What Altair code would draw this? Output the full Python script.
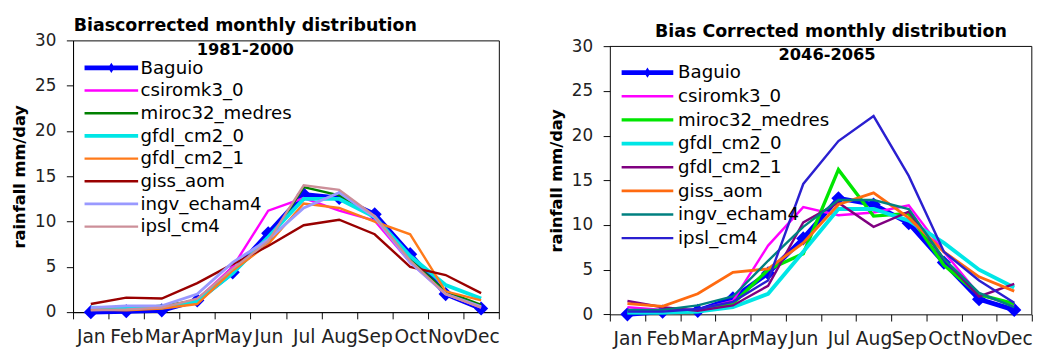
import json
import altair as alt
import pandas as pd

months = ["Jan", "Feb", "Mar", "Apr", "May", "Jun", "Jul", "Aug", "Sep", "Oct", "Nov", "Dec"]
series = ["Baguio", "csiromk3_0", "miroc32_medres", "gfdl_cm2_0", "gfdl_cm2_1",
          "giss_aom", "ingv_echam4", "ipsl_cm4"]

# ---- 1981-2000 (left panel), rainfall mm/day ----
hist_baguio = [0.0, 0.1, 0.2, 1.3, 4.4, 8.7, 13.0, 12.6, 10.8, 6.4, 2.0, 0.4]
hist_csiromk3_0 = [0.35, 0.35, 0.5, 1.4, 5.0, 11.2, 12.6, 11.2, 10.1, 5.5, 2.0, 0.5]
hist_miroc32_medres = [0.3, 0.4, 0.7, 1.3, 4.5, 7.7, 13.8, 12.9, 10.5, 5.8, 2.3, 0.8]
hist_gfdl_cm2_0 = [0.5, 0.4, 0.5, 1.2, 4.3, 8.3, 12.5, 12.5, 10.5, 6.2, 3.0, 1.5]
hist_gfdl_cm2_1 = [0.3, 0.2, 0.4, 0.9, 4.6, 7.5, 12.0, 11.5, 10.0, 8.6, 2.3, 1.3]
hist_giss_aom = [0.9, 1.6, 1.5, 3.2, 5.3, 7.3, 9.6, 10.2, 8.6, 5.0, 4.1, 2.1]
hist_ingv_echam4 = [0.5, 0.7, 0.7, 2.0, 5.5, 8.0, 11.5, 13.2, 10.5, 5.5, 2.0, 0.6]
hist_ipsl_cm4 = [0.2, 0.3, 0.5, 1.5, 4.8, 7.8, 14.0, 13.5, 10.6, 5.7, 2.0, 0.5]

# ---- 2046-2065 (right panel) ----
fut_baguio = [0.0, 0.3, 0.4, 1.8, 4.6, 8.5, 13.0, 12.3, 10.2, 5.8, 1.7, 0.5]
fut_csiromk3_0 = [0.8, 0.5, 0.5, 1.5, 7.7, 12.0, 11.1, 11.4, 12.2, 7.0, 2.2, 1.0]
fut_miroc32_medres = [0.2, 0.2, 0.3, 1.2, 5.0, 6.8, 16.2, 11.0, 11.3, 5.5, 2.2, 1.2]
fut_gfdl_cm2_0 = [0.2, 0.2, 0.3, 0.8, 2.3, 7.0, 11.8, 11.8, 10.5, 8.0, 5.0, 3.0]
fut_gfdl_cm2_1 = [1.5, 0.8, 0.4, 1.0, 3.2, 10.3, 12.5, 9.8, 11.5, 6.2, 2.0, 3.4]
fut_giss_aom = [1.2, 0.9, 2.3, 4.7, 5.1, 8.0, 12.3, 13.6, 10.8, 7.0, 4.2, 2.6]
fut_ingv_echam4 = [0.5, 0.5, 1.0, 2.0, 6.0, 9.8, 12.8, 12.8, 11.8, 6.2, 2.4, 0.8]
fut_ipsl_cm4 = [0.3, 0.3, 0.6, 1.4, 3.8, 14.6, 19.4, 22.2, 15.5, 7.0, 3.8, 1.3]

hist_colors = ["#0000FF", "#FF00FF", "#008000", "#00E6E6", "#FF7A1A", "#990000", "#9999FF", "#CC8F99"]
fut_colors = ["#0000FF", "#FF00FF", "#00E600", "#00E6E6", "#800080", "#FF6A10", "#008080", "#2A1FD0"]
hist_widths = [5, 2.5, 2.5, 4, 2.5, 2.5, 3, 2.5]
fut_widths = [5, 2.5, 3.5, 4, 2.5, 3, 2.5, 2.5]

hist_title = ["Biascorrected monthly distribution", "1981-2000"]
fut_title = ["Bias Corrected monthly distribution", "2046-2065"]
y_title = "rainfall mm/day"
y_ticks = [0, 5, 10, 15, 20, 25, 30]

FONT = "DejaVu Sans"
BASE_W = 2.5


def long_df(columns, widths):
    rows = []
    for name, vals, w in zip(series, columns, widths):
        for i, (m, v) in enumerate(zip(months, vals)):
            rows.append({"series": name, "month": m, "pos": i + 0.5, "value": v, "w": w})
    return pd.DataFrame(rows)


def symbol_path(w, r, diamond):
    # thick legend strokes are built from parallel lines of the base width
    if w <= BASE_W and not diamond:
        return "stroke"
    extra = max(w - BASE_W, 0) / 2.0
    if extra == 0:
        offs = [0.0]
    elif extra > 1:
        offs = [-extra, 0.0, extra]
    else:
        offs = [-extra, extra]
    p = "".join(f"M-1,{o / r:.4f}L1,{o / r:.4f}" for o in offs)
    if diamond:
        p += "M-0.07,0L0,-0.11L0.07,0L0,0.11Z"
    return p


def panel(columns, colors, widths, title_lines, width, height, y_top, title_cx, title_ys,
          legend_x, legend_y, row_pad, sym_size, label_off, framed):
    df = long_df(columns, widths)
    step = width / 12.0
    total_h = height + y_top
    label_expr = f"datum.value < 12 ? {json.dumps(months)}[datum.value] : ''"
    x_scale = alt.Scale(domain=[0, 12], nice=False, zero=False)
    x_axis = alt.Axis(values=list(range(13)), labelExpr=label_expr, labelOffset=step / 2,
                      labelFlush=False, labelOverlap=False, tickSize=7, grid=False, title=None,
                      domainColor="black", tickColor="black", labelColor="#222",
                      labelFont=FONT, labelFontSize=19.5, labelPadding=10)
    y_scale = alt.Scale(domain=[0, 30], nice=False, range=[total_h, y_top])
    y_axis = alt.Axis(values=y_ticks, title=y_title, titleFont=FONT, titleFontWeight="bold",
                      titleFontSize=17, titleColor="black", titlePadding=6,
                      labelFont=FONT, labelFontSize=17.5, labelColor="#222", labelPadding=11,
                      tickSize=7, grid=False, domainColor="black", tickColor="black")
    x = alt.X("pos:Q", scale=x_scale, axis=x_axis)
    y = alt.Y("value:Q", scale=y_scale, axis=y_axis)

    r = (sym_size ** 0.5) / 2.0
    paths = [symbol_path(w, r, i == 0) for i, w in enumerate(widths)]
    shape_expr = f"{json.dumps(paths)}[indexof({json.dumps(series)}, datum.value)]"

    base_b = alt.Chart(df[df["series"] == series[0]])
    b_line = base_b.mark_line(color=colors[0], strokeWidth=widths[0]).encode(x=x, y=y)
    b_pts = base_b.mark_point(shape="diamond", filled=True, size=220, color=colors[0],
                              opacity=1).encode(x=x, y=y)
    others = alt.Chart(df[df["series"] != series[0]]).mark_line().encode(
        x=x, y=y,
        color=alt.Color("series:N", scale=alt.Scale(domain=series, range=colors),
                        legend=alt.Legend(orient="none", legendX=legend_x, legendY=legend_y,
                                          title=None, padding=0, rowPadding=row_pad,
                                          clipHeight=19,
                                          symbolType={"expr": shape_expr},
                                          symbolStrokeWidth=BASE_W,
                                          symbolSize=sym_size, labelOffset=label_off,
                                          labelFont=FONT, labelFontSize=19, labelColor="black")),
        strokeWidth=alt.StrokeWidth("w:Q", scale=None),
    )
    t1 = alt.Chart(pd.DataFrame({"t": [title_lines[0]]})).mark_text(
        font=FONT, fontWeight="bold", fontSize=18.2, align="center", baseline="middle",
        color="black").encode(text="t:N", x=alt.value(title_cx[0]), y=alt.value(title_ys[0]))
    t2 = alt.Chart(pd.DataFrame({"t": [title_lines[1]]})).mark_text(
        font=FONT, fontWeight="bold", fontSize=17, align="center", baseline="middle",
        color="black").encode(text="t:N", x=alt.value(title_cx[1]), y=alt.value(title_ys[1]))
    marker = alt.Chart(pd.DataFrame({"t": [0]})).mark_rule(opacity=0).encode(
        x=alt.value(0), x2=alt.value(1), y=alt.value(-25), y2=alt.value(-25))

    layers = [b_line, b_pts, others, t1, t2, marker]
    props = dict(width=width, height=total_h)
    if framed:
        frame = pd.DataFrame({"a": [0]})
        top_rule = alt.Chart(frame).mark_rule(color="black", strokeWidth=1).encode(
            x=alt.XDatum(0, type="quantitative", scale=x_scale, axis=x_axis),
            x2=alt.X2Datum(12),
            y=alt.YDatum(30, type="quantitative", scale=y_scale, axis=y_axis))
        right_rule = alt.Chart(frame).mark_rule(color="black", strokeWidth=1).encode(
            x=alt.XDatum(12, type="quantitative", scale=x_scale, axis=x_axis),
            y=alt.YDatum(0, type="quantitative", scale=y_scale, axis=y_axis),
            y2=alt.Y2Datum(30))
        layers = layers + [top_rule, right_rule]
        props["view"] = alt.ViewBackground(stroke="transparent")
    return alt.layer(*layers).properties(**props)


left = panel([hist_baguio, hist_csiromk3_0, hist_miroc32_medres, hist_gfdl_cm2_0, hist_gfdl_cm2_1,
              hist_giss_aom, hist_ingv_echam4, hist_ipsl_cm4],
             hist_colors, hist_widths, hist_title, 445, 284, 0,
             title_cx=[180, 180], title_ys=[-15, 10],
             legend_x=10.5, legend_y=19.2, row_pad=3.7, sym_size=3136, label_off=1,
             framed=False)

right = panel([fut_baguio, fut_csiromk3_0, fut_miroc32_medres, fut_gfdl_cm2_0, fut_gfdl_cm2_1,
               fut_giss_aom, fut_ingv_echam4, fut_ipsl_cm4],
              fut_colors, fut_widths, fut_title, 441, 280, 6.3,
              title_cx=[231, 227], title_ys=[-9, 15.3],
              legend_x=10.8, legend_y=24.2, row_pad=4.7, sym_size=2916, label_off=3.5,
              framed=True)

chart = alt.hconcat(left, right, spacing=31).resolve_scale(
    color="independent").resolve_legend(color="independent").properties(
    padding={"left": 3, "top": 0, "right": 0, "bottom": 0}, background="white"
).configure_view(stroke="black", strokeWidth=1)

chart.save("out.html", embed_options={"renderer": "svg", "actions": False})
